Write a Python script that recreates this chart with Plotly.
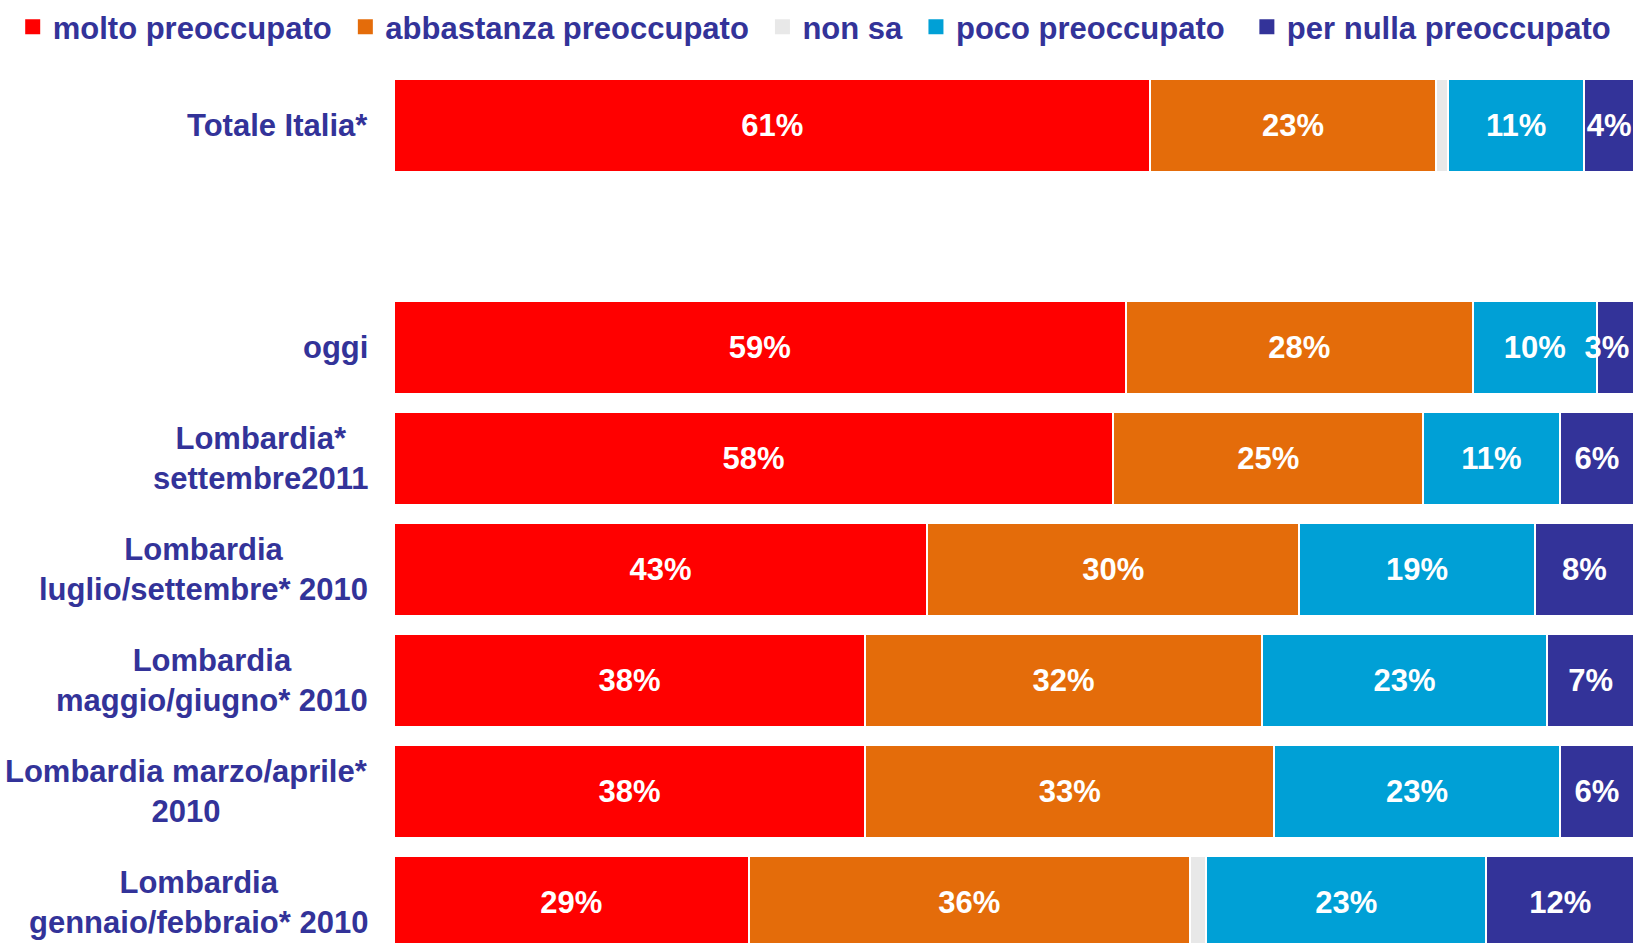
import plotly.graph_objects as go

# righe del grafico (la seconda è uno spazio vuoto tra Italia e Lombardia)
righe = [
    "Totale Italia*",
    "",
    "oggi",
    "Lombardia*<br>settembre2011",
    "Lombardia<br>luglio/settembre* 2010",
    "Lombardia<br>maggio/giugno* 2010",
    "Lombardia marzo/aprile*<br>2010",
    "Lombardia<br>gennaio/febbraio* 2010",
]

molto      = [61, None, 59, 58, 43, 38, 38, 28.6]
abbastanza = [23, None, 28, 25, 30, 32, 33, 35.6]
non_sa     = [1, None, 0, 0, 0, 0, 0, 1.3]
poco       = [11, None, 10, 11, 19, 23, 23, 22.6]
per_nulla  = [4, None, 3, 6, 8, 7, 6, 11.9]

serie = [
    ("molto preoccupato", molto, "#FF0000", True),
    ("abbastanza preoccupato", abbastanza, "#E46C0A", True),
    ("non sa", non_sa, "#E8E8E8", False),
    ("poco preoccupato", poco, "#00A0D6", True),
    ("per nulla preoccupato", per_nulla, "#333399", True),
]

BLU_TESTO = "#333399"
FONT = "Liberation Sans, Arial, sans-serif"

pos = list(range(len(righe)))

fig = go.Figure()
for nome, valori, colore, etichetta in serie:
    if etichetta:
        # sull'ultimo segmento molto stretto l'etichetta va un po' a sinistra
        modello = [
            "%{x:.0f}%\u00a0\u00a0" if (nome == "per nulla preoccupato" and v is not None and v < 4)
            else "%{x:.0f}%"
            for v in valori
        ]
    else:
        modello = ""
    fig.add_trace(go.Bar(
        y=pos,
        x=valori,
        orientation="h",
        name=nome,
        marker_color=colore,
        marker_line=dict(color="white", width=2),
        width=0.83,
        texttemplate=modello,
        textposition="inside" if etichetta else "none",
        insidetextanchor="middle",
        constraintext="none",
        textangle=0,
        textfont=dict(color="white", size=31, family=FONT, weight="bold"),
        hoverinfo="skip",
        showlegend=False,
    ))
    # voce di legenda con quadratino più grande
    spazio = "\u00a0\u00a0" if nome == "poco preoccupato" else "\u00a0"
    fig.add_trace(go.Scatter(
        x=[None], y=[None],
        mode="markers",
        name=nome + spazio,
        marker=dict(symbol="square", size=15, color=colore),
        hoverinfo="skip",
    ))

for p, r in zip(pos, righe):
    if not r:
        continue
    fig.add_annotation(
        x=0, xref="paper", y=p, yref="y",
        text=r, showarrow=False,
        xanchor="right", yanchor="middle", align="center",
        xshift=-24,
        font=dict(size=31, color=BLU_TESTO, family=FONT, weight="bold"),
    )

fig.update_layout(
    width=1634, height=943,
    barmode="stack",
    paper_bgcolor="white", plot_bgcolor="white",
    margin=dict(l=394, r=0, t=70, b=0, autoexpand=False),
    font=dict(family=FONT, color=BLU_TESTO),
    xaxis=dict(range=[0, 100], visible=False),
    yaxis=dict(range=[7.365, -0.5], visible=False),
    legend=dict(
        orientation="h",
        x=-0.3075, xanchor="left",
        y=1.08, yanchor="top",
        font=dict(size=31, color=BLU_TESTO, family=FONT, weight="bold"),
        bgcolor="rgba(0,0,0,0)",
        traceorder="normal",
    ),
    showlegend=True,
)

# niente margine della pagina: il grafico parte dall'angolo in alto a sinistra
fig.write_html(
    "out.html",
    config={"displayModeBar": False},
    post_script="document.body.style.margin='0';",
)
